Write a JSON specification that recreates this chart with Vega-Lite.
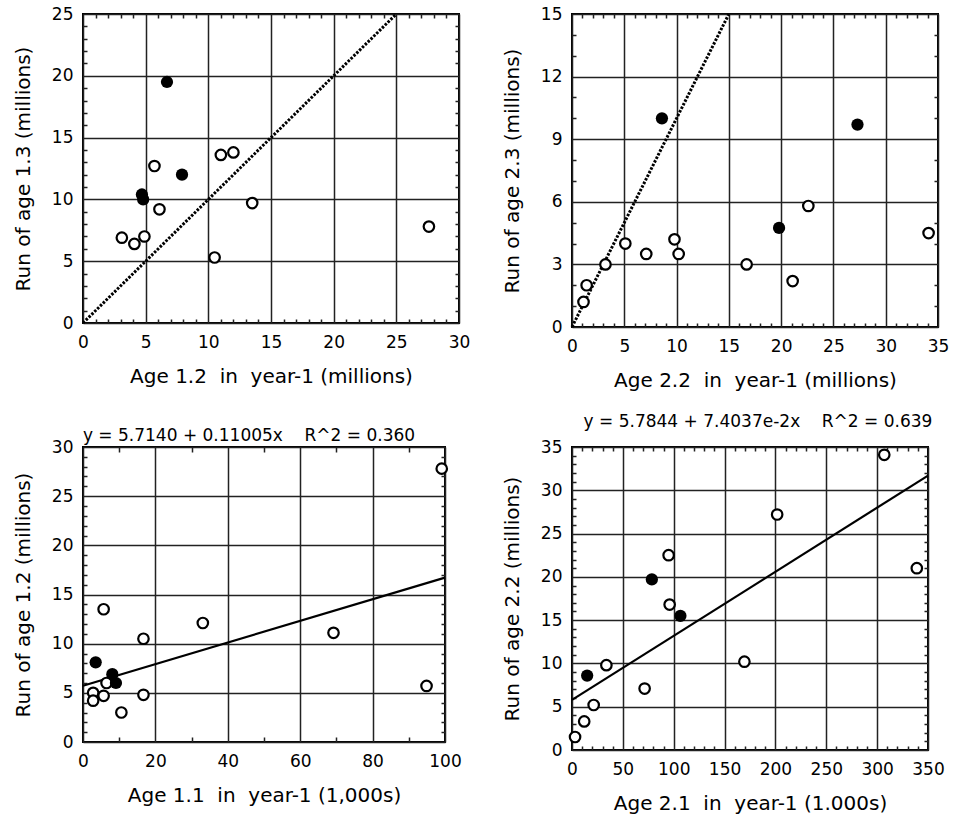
{
  "$schema": "https://vega.github.io/schema/vega-lite/v6.json",
  "background": "white",
  "padding": {"left": 12, "top": 4, "right": 5, "bottom": 5},
  "datasets": {
    "p1": [
      {"x": 6.7, "y": 19.5, "f": "f"}, {"x": 7.9, "y": 12.0, "f": "f"}, {"x": 4.7, "y": 10.4, "f": "f"}, {"x": 4.8, "y": 10.0, "f": "f"},
      {"x": 5.7, "y": 12.7, "f": "o"}, {"x": 11.0, "y": 13.6, "f": "o"}, {"x": 12.0, "y": 13.8, "f": "o"}, {"x": 6.1, "y": 9.2, "f": "o"},
      {"x": 13.5, "y": 9.7, "f": "o"}, {"x": 3.1, "y": 6.9, "f": "o"}, {"x": 4.1, "y": 6.4, "f": "o"}, {"x": 4.9, "y": 7.0, "f": "o"},
      {"x": 10.5, "y": 5.3, "f": "o"}, {"x": 27.6, "y": 7.8, "f": "o"}
    ],
    "l1": [{"x": 0, "y": 0}, {"x": 25, "y": 25}],
    "p2": [
      {"x": 8.6, "y": 10.0, "f": "f"}, {"x": 27.3, "y": 9.7, "f": "f"}, {"x": 19.8, "y": 4.75, "f": "f"},
      {"x": 22.6, "y": 5.8, "f": "o"}, {"x": 34.1, "y": 4.5, "f": "o"}, {"x": 5.1, "y": 4.0, "f": "o"}, {"x": 7.1, "y": 3.5, "f": "o"},
      {"x": 9.8, "y": 4.2, "f": "o"}, {"x": 10.2, "y": 3.5, "f": "o"}, {"x": 3.2, "y": 3.0, "f": "o"}, {"x": 16.7, "y": 3.0, "f": "o"},
      {"x": 21.1, "y": 2.2, "f": "o"}, {"x": 1.4, "y": 2.0, "f": "o"}, {"x": 1.1, "y": 1.2, "f": "o"}
    ],
    "l2": [{"x": 0, "y": 0}, {"x": 15, "y": 15}],
    "p3": [
      {"x": 3.5, "y": 8.1, "f": "f"}, {"x": 8.1, "y": 6.9, "f": "f"}, {"x": 9.1, "y": 6.0, "f": "f"},
      {"x": 5.7, "y": 13.5, "f": "o"}, {"x": 33.1, "y": 12.1, "f": "o"}, {"x": 16.7, "y": 10.5, "f": "o"}, {"x": 69.2, "y": 11.1, "f": "o"},
      {"x": 99.1, "y": 27.8, "f": "o"}, {"x": 94.9, "y": 5.7, "f": "o"}, {"x": 6.5, "y": 6.0, "f": "o"}, {"x": 2.8, "y": 5.0, "f": "o"},
      {"x": 2.8, "y": 4.2, "f": "o"}, {"x": 5.7, "y": 4.7, "f": "o"}, {"x": 16.7, "y": 4.8, "f": "o"}, {"x": 10.6, "y": 3.0, "f": "o"}
    ],
    "l3": [{"x": 0, "y": 5.714}, {"x": 100, "y": 16.719}],
    "p4": [
      {"x": 78.5, "y": 19.7, "f": "f"}, {"x": 106.6, "y": 15.5, "f": "f"}, {"x": 14.9, "y": 8.6, "f": "f"},
      {"x": 307, "y": 34.1, "f": "o"}, {"x": 201.7, "y": 27.2, "f": "o"}, {"x": 95, "y": 22.5, "f": "o"}, {"x": 96, "y": 16.8, "f": "o"},
      {"x": 339, "y": 21.0, "f": "o"}, {"x": 169.5, "y": 10.2, "f": "o"}, {"x": 33.8, "y": 9.8, "f": "o"}, {"x": 71.4, "y": 7.1, "f": "o"},
      {"x": 21.3, "y": 5.2, "f": "o"}, {"x": 12, "y": 3.3, "f": "o"}, {"x": 3, "y": 1.5, "f": "o"}
    ],
    "l4": [{"x": 0, "y": 5.7844}, {"x": 350, "y": 31.698}]
  },
  "columns": 2,
  "align": "each",
  "bounds": "flush",
  "spacing": {"row": 120, "column": 113},
  "concat": [
    {
      "width": 376, "height": 309,
      "layer": [
        {"data": {"name": "l1"}, "mark": {"type": "line", "color": "black", "strokeWidth": 3, "strokeDash": [2.5, 1.5]},
         "encoding": {
           "x": {"field": "x", "type": "quantitative", "scale": {"domain": [0, 30], "nice": false, "zero": false},
                 "axis": {"orient": "bottom", "tickCount": 200, "format": "d", "values": [0,1,2,3,4,5,6,7,8,9,10,11,12,13,14,15,16,17,18,19,20,21,22,23,24,25,26,27,28,29,30],
                          "labelExpr": "datum.value % 5 == 0 ? datum.label : ''",
                          "grid": true, "gridDash": {"condition": {"test": "datum.value % 5 == 0", "value": []}, "value": [4, 301, 4, 400]},
                          "ticks": false, "title": "Age 1.2\u00a0 in\u00a0 year-1 (millions)"}},
           "y": {"field": "y", "type": "quantitative", "scale": {"domain": [0, 25], "nice": false, "zero": false},
                 "axis": {"orient": "left", "tickCount": 200, "format": "d", "values": [0,1,2,3,4,5,6,7,8,9,10,11,12,13,14,15,16,17,18,19,20,21,22,23,24,25],
                          "labelExpr": "datum.value % 5 == 0 ? datum.label : ''",
                          "grid": true, "gridDash": {"condition": {"test": "datum.value % 5 == 0", "value": []}, "value": [4, 368, 4, 500]},
                          "ticks": false, "title": "Run of age 1.3 (millions)"}}
         }},
        {"data": {"name": "p1"}, "transform": [{"filter": "datum.f == 'o'"}],
         "mark": {"type": "point", "shape": "circle", "filled": true, "fill": "white", "stroke": "black", "strokeWidth": 2.2, "size": 110, "opacity": 1},
         "encoding": {
           "x": {"field": "x", "type": "quantitative", "scale": {"domain": [0, 30], "nice": false, "zero": false}},
           "y": {"field": "y", "type": "quantitative", "scale": {"domain": [0, 25], "nice": false, "zero": false}}
         }},
        {"data": {"name": "p1"}, "transform": [{"filter": "datum.f == 'f'"}],
         "mark": {"type": "point", "shape": "circle", "filled": true, "color": "black", "size": 150, "opacity": 1},
         "encoding": {
           "x": {"field": "x", "type": "quantitative", "scale": {"domain": [0, 30], "nice": false, "zero": false}},
           "y": {"field": "y", "type": "quantitative", "scale": {"domain": [0, 25], "nice": false, "zero": false}}
         }}
      ]
    },
    {
      "width": 366, "height": 313,
      "layer": [
        {"data": {"name": "l2"}, "mark": {"type": "line", "color": "black", "strokeWidth": 3, "strokeDash": [2.5, 1.5]},
         "encoding": {
           "x": {"field": "x", "type": "quantitative", "scale": {"domain": [0, 35], "nice": false, "zero": false},
                 "axis": {"orient": "bottom", "tickCount": 200, "format": "d", "values": [0,1,2,3,4,5,6,7,8,9,10,11,12,13,14,15,16,17,18,19,20,21,22,23,24,25,26,27,28,29,30,31,32,33,34,35],
                          "labelExpr": "datum.value % 5 == 0 ? datum.label : ''",
                          "grid": true, "gridDash": {"condition": {"test": "datum.value % 5 == 0", "value": []}, "value": [4, 305, 4, 400]},
                          "ticks": false, "title": "Age 2.2\u00a0 in\u00a0 year-1 (millions)"}},
           "y": {"field": "y", "type": "quantitative", "scale": {"domain": [0, 15], "nice": false, "zero": false},
                 "axis": {"orient": "left", "tickCount": 200, "format": "d", "values": [0,1,2,3,4,5,6,7,8,9,10,11,12,13,14,15],
                          "labelExpr": "datum.value % 3 == 0 ? datum.label : ''",
                          "grid": true, "gridDash": {"condition": {"test": "datum.value % 3 == 0", "value": []}, "value": [4, 358, 4, 500]},
                          "ticks": false, "title": "Run of age 2.3 (millions)"}}
         }},
        {"data": {"name": "p2"}, "transform": [{"filter": "datum.f == 'o'"}],
         "mark": {"type": "point", "shape": "circle", "filled": true, "fill": "white", "stroke": "black", "strokeWidth": 2.2, "size": 110, "opacity": 1},
         "encoding": {
           "x": {"field": "x", "type": "quantitative", "scale": {"domain": [0, 35], "nice": false, "zero": false}},
           "y": {"field": "y", "type": "quantitative", "scale": {"domain": [0, 15], "nice": false, "zero": false}}
         }},
        {"data": {"name": "p2"}, "transform": [{"filter": "datum.f == 'f'"}],
         "mark": {"type": "point", "shape": "circle", "filled": true, "color": "black", "size": 150, "opacity": 1},
         "encoding": {
           "x": {"field": "x", "type": "quantitative", "scale": {"domain": [0, 35], "nice": false, "zero": false}},
           "y": {"field": "y", "type": "quantitative", "scale": {"domain": [0, 15], "nice": false, "zero": false}}
         }}
      ]
    },
    {
      "width": 362, "height": 295,
      "title": {"text": "y = 5.7140 + 0.11005x\u00a0\u00a0\u00a0\u00a0R^2 = 0.360", "offset": -24, "dx": -15, "baseline": "bottom"},
      "layer": [
        {"data": {"name": "l3"}, "mark": {"type": "line", "color": "black", "strokeWidth": 2.2},
         "encoding": {
           "x": {"field": "x", "type": "quantitative", "scale": {"domain": [0, 100], "nice": false, "zero": false},
                 "axis": {"orient": "bottom", "tickCount": 200, "format": "d", "values": [0,10,20,30,40,50,60,70,80,90,100],
                          "labelExpr": "datum.value % 20 == 0 ? datum.label : ''",
                          "grid": true, "gridDash": {"condition": {"test": "datum.value % 20 == 0", "value": []}, "value": [5, 285, 5, 400]},
                          "ticks": false, "title": "Age 1.1\u00a0 in\u00a0 year-1 (1,000s)"}},
           "y": {"field": "y", "type": "quantitative", "scale": {"domain": [0, 30], "nice": false, "zero": false},
                 "axis": {"orient": "left", "tickCount": 200, "format": "d", "values": [0,1,2,3,4,5,6,7,8,9,10,11,12,13,14,15,16,17,18,19,20,21,22,23,24,25,26,27,28,29,30],
                          "labelExpr": "datum.value % 5 == 0 ? datum.label : ''",
                          "grid": true, "gridDash": {"condition": {"test": "datum.value % 5 == 0", "value": []}, "value": [4, 354, 4, 500]},
                          "ticks": false, "title": "Run of age 1.2 (millions)"}}
         }},
        {"data": {"name": "p3"}, "transform": [{"filter": "datum.f == 'o'"}],
         "mark": {"type": "point", "shape": "circle", "filled": true, "fill": "white", "stroke": "black", "strokeWidth": 2.2, "size": 110, "opacity": 1},
         "encoding": {
           "x": {"field": "x", "type": "quantitative", "scale": {"domain": [0, 100], "nice": false, "zero": false}},
           "y": {"field": "y", "type": "quantitative", "scale": {"domain": [0, 30], "nice": false, "zero": false}}
         }},
        {"data": {"name": "p3"}, "transform": [{"filter": "datum.f == 'f'"}],
         "mark": {"type": "point", "shape": "circle", "filled": true, "color": "black", "size": 150, "opacity": 1},
         "encoding": {
           "x": {"field": "x", "type": "quantitative", "scale": {"domain": [0, 100], "nice": false, "zero": false}},
           "y": {"field": "y", "type": "quantitative", "scale": {"domain": [0, 30], "nice": false, "zero": false}}
         }}
      ]
    },
    {
      "width": 356, "height": 303,
      "title": {"text": "y = 5.7844 + 7.4037e-2x\u00a0\u00a0\u00a0\u00a0R^2 = 0.639", "offset": -10, "dx": 8, "baseline": "bottom"},
      "layer": [
        {"data": {"name": "l4"}, "mark": {"type": "line", "color": "black", "strokeWidth": 2.2},
         "encoding": {
           "x": {"field": "x", "type": "quantitative", "scale": {"domain": [0, 350], "nice": false, "zero": false},
                 "axis": {"orient": "bottom", "tickCount": 200, "format": "d", "values": [0,10,20,30,40,50,60,70,80,90,100,110,120,130,140,150,160,170,180,190,200,210,220,230,240,250,260,270,280,290,300,310,320,330,340,350],
                          "labelExpr": "datum.value % 50 == 0 ? datum.label : ''",
                          "grid": true, "gridDash": {"condition": {"test": "datum.value % 50 == 0", "value": []}, "value": [4, 295, 4, 400]},
                          "ticks": false, "title": "Age 2.1\u00a0 in\u00a0 year-1 (1.000s)"}},
           "y": {"field": "y", "type": "quantitative", "scale": {"domain": [0, 35], "nice": false, "zero": false},
                 "axis": {"orient": "left", "tickCount": 200, "format": "d", "values": [0,1,2,3,4,5,6,7,8,9,10,11,12,13,14,15,16,17,18,19,20,21,22,23,24,25,26,27,28,29,30,31,32,33,34,35],
                          "labelExpr": "datum.value % 5 == 0 ? datum.label : ''",
                          "grid": true, "gridDash": {"condition": {"test": "datum.value % 5 == 0", "value": []}, "value": [4, 348, 4, 500]},
                          "ticks": false, "title": "Run of age 2.2 (millions)"}}
         }},
        {"data": {"name": "p4"}, "transform": [{"filter": "datum.f == 'o'"}],
         "mark": {"type": "point", "shape": "circle", "filled": true, "fill": "white", "stroke": "black", "strokeWidth": 2.2, "size": 110, "opacity": 1},
         "encoding": {
           "x": {"field": "x", "type": "quantitative", "scale": {"domain": [0, 350], "nice": false, "zero": false}},
           "y": {"field": "y", "type": "quantitative", "scale": {"domain": [0, 35], "nice": false, "zero": false}}
         }},
        {"data": {"name": "p4"}, "transform": [{"filter": "datum.f == 'f'"}],
         "mark": {"type": "point", "shape": "circle", "filled": true, "color": "black", "size": 150, "opacity": 1},
         "encoding": {
           "x": {"field": "x", "type": "quantitative", "scale": {"domain": [0, 350], "nice": false, "zero": false}},
           "y": {"field": "y", "type": "quantitative", "scale": {"domain": [0, 35], "nice": false, "zero": false}}
         }}
      ]
    }
  ],
  "config": {
    "view": {"stroke": "black", "strokeWidth": 2},
    "axis": {
      "domain": false,
      "labelFont": "DejaVu Sans", "labelFontSize": 17, "labelColor": "black",
      "labelFlush": false, "labelOverlap": false,
      "titleFont": "DejaVu Sans", "titleFontSize": 20, "titleFontWeight": "normal", "titleColor": "black",
      "gridColor": "#222222", "gridWidth": 1.5, "gridOpacity": 1,
      "tickColor": "black", "tickWidth": 1.5
    },
    "axisX": {"labelPadding": 11, "titlePadding": 16},
    "axisY": {"labelPadding": 10, "titlePadding": 18},
    "title": {"font": "DejaVu Sans", "fontSize": 17, "fontWeight": "normal", "color": "black", "anchor": "middle"}
  }
}
